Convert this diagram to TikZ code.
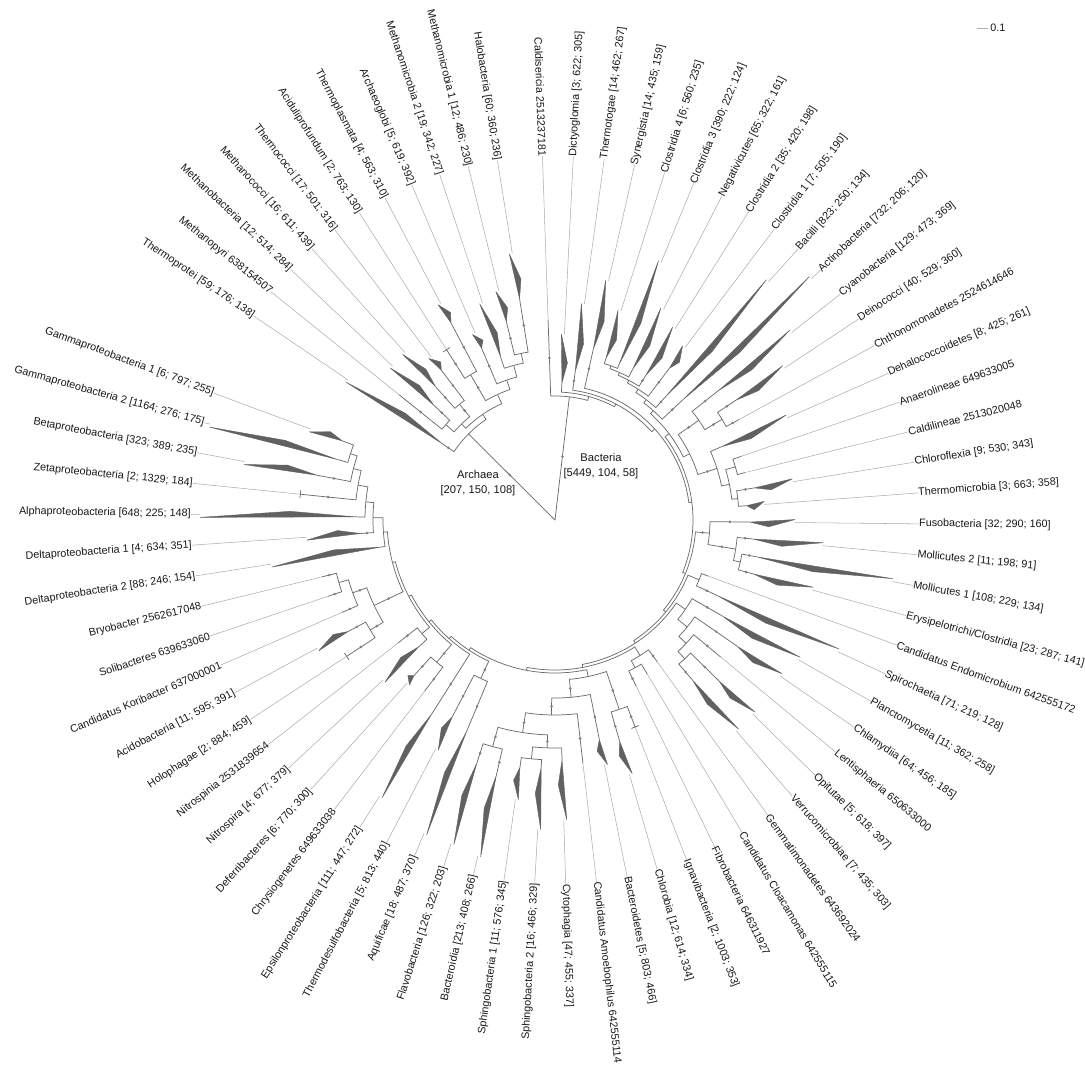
\documentclass[tikz,border=0pt]{standalone}
\usepackage{fontspec}
\setmainfont{Liberation Sans}
\pgfdeclarelayer{back}
\pgfdeclarelayer{bg}
\pgfsetlayers{back,bg,main}
\tikzset{
  br/.style={draw=black!58, line width=0.55pt},
  ld/.style={draw=black!32, line width=0.4pt},
  tri/.style={fill=black!62, draw=black!62, line width=0.3pt, line join=round},
  dotc/.style={fill=black!50},
  lab/.style={inner sep=0pt, font=\fontsize{8.1}{9.5}\selectfont, text=black!90},
}
\newcommand\TreeNode[3]{%
  \expandafter\xdef\csname TA#1\endcsname{#2}%
  \expandafter\xdef\csname TR#1\endcsname{#3}%
  \coordinate (#1) at (#2:#3);%
}
\newcommand\TreeEdge[2]{%
  \edef\EPa{\csname TA#1\endcsname}%
  \edef\EPr{\csname TR#1\endcsname}%
  \edef\ECa{\csname TA#2\endcsname}%
  \edef\ECr{\csname TR#2\endcsname}%
  \pgfmathsetmacro\EL{\ECr-\EPr}%
  \pgfmathsetmacro\EM{\EPr+0.5*\EL}%
  \begin{pgfonlayer}{bg}%
    \draw[br] (#1) arc[start angle=\EPa, end angle=\ECa, radius=\EPr*0.75pt] -- (#2);%
    \ifdim\EL pt>12pt \fill[dotc] (\ECa:\EM) circle[radius=1.1pt];\fi
  \end{pgfonlayer}%
}
\newcommand\TreeMean[4]{%
  \pgfmathsetmacro\MA{(\csname TA#3\endcsname+\csname TA#4\endcsname)/2}%
  \TreeNode{#1}{\MA}{#2}%
  \TreeEdge{#1}{#3}%
  \TreeEdge{#1}{#4}%
}
\newcommand\TreeLeaf[5]{%
  \pgfmathsetmacro\LA{#2}%
  \TreeNode{#1}{\LA}{#3}%
  \ifdim #4pt>0pt
    \pgfmathsetmacro\LM{#3+0.42*(#4-#3)}%
    \pgfmathsetmacro\LP{\LA+3/#4*57.3}%
    \pgfmathsetmacro\LQ{\LA-4.5/\LM*57.3}%
    \fill[tri] (#1) -- (\LP:#4) -- (\LQ:\LM) -- cycle;%
    \coordinate (T#1) at (\LA:#4);%
  \else
    \coordinate (T#1) at (\LA:#3);%
  \fi
  \pgfmathsetmacro\LC{cos(\LA)}%
  \ifdim\LC pt<0pt
    \node[lab,anchor=east,rotate=\LA+180] (L#1) at (\LA:364) {#5};%
    \draw[ld] (T#1) -- (L#1.east);%
  \else
    \node[lab,anchor=west,rotate=\LA] (L#1) at (\LA:364) {#5};%
    \draw[ld] (T#1) -- (L#1.west);%
  \fi
}
\newcommand\TreeTick[1]{%
  \edef\KA{\csname TA#1\endcsname}%
  \edef\KR{\csname TR#1\endcsname}%
  \pgfmathsetmacro\KP{\KA+4/\KR*57.3}%
  \pgfmathsetmacro\KQ{\KA-4/\KR*57.3}%
  \draw[br] (\KP:\KR) -- (\KQ:\KR);%
}
\newcommand\BLeaf[5]{\TreeLeaf{#1}{159.6+4.873*#2}{#3}{#4}{#5}}
\newcommand\ALeaf[5]{\TreeLeaf{#1}{99.1+4.68*#2}{#3}{#4}{#5}}

\begin{document}
\begin{tikzpicture}[x=0.75pt,y=0.75pt]
\begin{pgfonlayer}{back}
\fill[white] (-555,-545) rectangle (530,520);
\end{pgfonlayer}
\useasboundingbox (-555,-545) rectangle (530,520);
\coordinate (root) at (0,0);

% ---------------- Archaea leaves
\ALeaf{halo}{0}{224}{270}{Halobacteria [60; 360; 236]}
\ALeaf{mmA}{1}{204}{236}{Methanomicrobia 1 [12; 486; 230]}
\ALeaf{mmB}{2}{172}{229}{Methanomicrobia 2 [19; 342; 227]}
\ALeaf{archg}{3}{187}{203}{Archaeoglobi [5; 619; 392]}
\ALeaf{tplasma}{4}{223}{245}{Thermoplasmata [4; 563; 310]}
\ALeaf{acidul}{5}{202}{0}{Aciduliprofundum [2; 763; 130]}
\ALeaf{tcocci}{6}{188}{205}{Thermococci [17; 501; 316]}
\ALeaf{mcocci}{7}{179}{225}{Methanococci [16; 611; 439]}
\ALeaf{mbact}{8}{167}{224}{Methanobacteria [12; 514; 284]}
\ALeaf{mpyri}{9}{200}{0}{Methanopyri 638154507}
\ALeaf{tprot}{10}{136}{250}{Thermoprotei [59; 176; 138]}
\TreeTick{acidul}

% ---------------- Bacteria leaves
\BLeaf{gA}{0}{227}{261}{Gammaproteobacteria 1 [6; 797; 255]}
\BLeaf{gB}{1}{226}{358}{Gammaproteobacteria 2 [1164; 276; 175]}
\BLeaf{beta}{2}{242}{316}{Betaproteobacteria [323; 389; 235]}
\BLeaf{zeta}{3}{256}{0}{Zetaproteobacteria [2; 1329; 184]}
\BLeaf{alpha}{4}{200}{355}{Alphaproteobacteria [648; 225; 148]}
\BLeaf{dA}{5}{195}{249}{Deltaproteobacteria 1 [4; 634; 351]}
\BLeaf{dB}{6}{177}{287}{Deltaproteobacteria 2 [88; 246; 154]}
\BLeaf{bryo}{7}{240}{0}{Bryobacter 2562617048}
\BLeaf{soli}{8}{240}{0}{Solibacteres 639633060}
\BLeaf{kori}{9}{232}{0}{Candidatus Koribacter 637000001}
\BLeaf{acido}{10}{235}{270}{Acidobacteria [11; 595; 391]}
\BLeaf{holo}{11}{249}{0}{Holophagae [2; 884; 459]}
\BLeaf{nspinia}{12}{200}{0}{Nitrospinia 2531839654}
\BLeaf{nspira}{13}{186}{235}{Nitrospira [4; 677; 379]}
\BLeaf{deferri}{14}{210}{220}{Deferribacteres [6; 770; 300]}
\BLeaf{chryso}{15}{215}{0}{Chrysiogenetes 649633038}
\BLeaf{eps}{16}{230}{327}{Epsilonproteobacteria [111; 447; 272]}
\BLeaf{tdesulf}{17}{222}{258}{Thermodesulfobacteria [5; 813; 440]}
\BLeaf{aquif}{18}{229}{340}{Aquificae [18; 487; 370]}
\BLeaf{flavo}{19}{255}{340}{Flavobacteria [126; 322; 203]}
\BLeaf{bactdia}{20}{262}{345}{Bacteroidia [213; 408; 266]}
\BLeaf{sphA}{21}{250}{282}{Sphingobacteria 1 [11; 576; 345]}
\BLeaf{sphB}{22}{248}{310}{Sphingobacteria 2 [16; 466; 329]}
\BLeaf{cyto}{23}{240}{300}{Cytophagia [47; 455; 337]}
\BLeaf{amoeb}{24}{245}{0}{Candidatus Amoebophilus 642555114}
\BLeaf{bactdetes}{25}{224}{250}{Bacteroidetes [5; 803; 466]}
\BLeaf{chlorobia}{26}{230}{265}{Chlorobia [12; 614; 334]}
\BLeaf{ignav}{27}{222}{0}{Ignavibacteria [2; 1003; 353]}
\BLeaf{fibro}{28}{185}{0}{Fibrobacteria 646311927}
\BLeaf{cloaca}{29}{180}{0}{Candidatus Cloacamonas 642555115}
\BLeaf{gemma}{30}{175}{0}{Gemmatimonadetes 643692024}
\BLeaf{verru}{31}{211}{278}{Verrucomicrobiae [7; 435; 303]}
\BLeaf{opit}{32}{230}{277}{Opitutae [5; 618; 397]}
\BLeaf{lenti}{33}{215}{0}{Lentisphaeria 650633000}
\BLeaf{chlam}{34}{222}{274}{Chlamydiia [64; 456; 185]}
\BLeaf{plancto}{35}{193}{281}{Planctomycetia [11; 362; 258]}
\BLeaf{spiro}{36}{179}{312}{Spirochaetia [71; 219; 128]}
\BLeaf{endo}{37}{163}{0}{Candidatus Endomicrobium 642555172}
\BLeaf{erys}{38}{206}{267}{Erysipelotrichi/Clostridia [23; 287; 141]}
\BLeaf{mollA}{39}{205}{343}{Mollicutes 1 [108; 229; 134]}
\BLeaf{mollB}{40}{199}{269}{Mollicutes 2 [11; 198; 91]}
\BLeaf{fuso}{41}{195}{240}{Fusobacteria [32; 290; 160]}
\BLeaf{tmicro}{42}{192}{210}{Thermomicrobia [3; 663; 358]}
\BLeaf{cflexia}{43}{202}{241}{Chloroflexia [9; 530; 343]}
\BLeaf{caldil}{44}{196}{0}{Caldilineae 2513020048}
\BLeaf{anaero}{45}{197}{0}{Anaerolineae 649633005}
\BLeaf{dehalo}{46}{182}{254}{Dehalococcoidetes [8; 425; 261]}
\BLeaf{chthono}{47}{210}{0}{Chthonomonadetes 2524614646}
\BLeaf{deino}{48}{217}{275}{Deinococci [40; 529; 360]}
\BLeaf{cyano}{49}{208}{302}{Cyanobacteria [129; 473; 369]}
\BLeaf{actino}{50}{175}{352}{Actinobacteria [732; 206; 120]}
\BLeaf{bacilli}{51}{166}{320}{Bacilli [823; 250; 134]}
\BLeaf{closA}{52}{190}{216}{Clostridia 1 [7; 505; 190]}
\BLeaf{closB}{53}{171}{226}{Clostridia 2 [35; 420; 198]}
\BLeaf{negat}{54}{170}{237}{Negativicutes [65; 322; 161]}
\BLeaf{closC}{55}{168}{279}{Clostridia 3 [390; 222; 124]}
\BLeaf{closD}{56}{170}{219}{Clostridia 4 [6; 560; 235]}
\BLeaf{syner}{57}{175}{245}{Synergistia [14; 435; 159]}
\BLeaf{tmtogae}{58}{150}{218}{Thermotogae [14; 462; 267]}
\BLeaf{dicty}{59}{137}{186}{Dictyoglomia [3; 622; 305]}
\BLeaf{caldis}{60}{200}{0}{Caldisericia 2513237181}
\TreeTick{zeta}
\TreeTick{holo}
\TreeTick{ignav}

% ---------------- Archaea internal nodes
\TreeMean{nHA}{170}{halo}{mmA}
\TreeMean{nHB}{160}{nHA}{mmB}
\TreeMean{nHC}{148}{nHB}{archg}
\TreeMean{nTA}{168}{tplasma}{acidul}
\TreeMean{nEB}{138}{nHC}{nTA}
\TreeMean{nTM}{150}{tcocci}{mcocci}
\TreeMean{nMM}{145}{mbact}{mpyri}
\TreeMean{nEA}{134}{nTM}{nMM}
\TreeMean{nE}{128}{nEA}{nEB}
\TreeMean{nA}{122}{nE}{tprot}

% ---------------- Bacteria internal nodes
\TreeMean{nPA}{215}{gA}{gB}
\TreeMean{nPB}{208}{nPA}{beta}
\TreeMean{nPC}{200}{nPB}{zeta}
\TreeMean{nPD}{190}{nPC}{alpha}
\TreeMean{nPE}{182}{nPD}{dA}
\TreeMean{nPF}{172}{nPE}{dB}
\TreeMean{nACA}{225}{bryo}{soli}
\TreeMean{nACB}{215}{nACA}{kori}
\TreeMean{nACC}{215}{acido}{holo}
\TreeMean{nAC}{200}{nACB}{nACC}
\TreeMean{nNN}{175}{nspinia}{nspira}
\TreeMean{nDC}{185}{deferri}{chryso}
\TreeMean{nAT}{175}{tdesulf}{aquif}
\TreeMean{nFB}{235}{flavo}{bactdia}
\TreeMean{nSS}{240}{sphA}{sphB}
\TreeMean{nSSC}{228}{nSS}{cyto}
\TreeMean{nBGc}{215}{nFB}{nSSC}
\TreeMean{nBGb}{195}{nBGc}{amoeb}
\TreeMean{nBG}{178}{nBGb}{bactdetes}
\TreeMean{nCI}{200}{chlorobia}{ignav}
\TreeMean{nBGC}{160}{nBG}{nCI}
\TreeMean{nFC}{168}{fibro}{cloaca}
\TreeMean{nFCG}{160}{nFC}{gemma}
\TreeMean{nPVA}{190}{opit}{verru}
\TreeMean{nPVB}{180}{nPVA}{lenti}
\TreeMean{nPVC}{170}{nPVB}{chlam}
\TreeMean{nPV}{158}{nPVC}{plancto}
\TreeMean{nSE}{156}{endo}{spiro}
\TreeMean{nMB}{190}{mollA}{erys}
\TreeMean{nMA}{183}{nMB}{mollB}
\TreeMean{nFM}{155}{nMA}{fuso}
\TreeMean{nCFA}{188}{caldil}{anaero}
\TreeMean{nCFB}{184}{cflexia}{tmicro}
\TreeMean{nCFC}{178}{nCFA}{nCFB}
\TreeMean{nCFX}{170}{nCFC}{dehalo}
\TreeMean{nDCB}{195}{deino}{chthono}
\TreeMean{nCY}{175}{nDCB}{cyano}
\TreeMean{nTT}{150}{nCY}{nCFX}
\TreeMean{nFA}{164}{closD}{closC}
\TreeMean{nFB2}{161}{nFA}{negat}
\TreeMean{nFC2}{158}{nFB2}{closB}
\TreeMean{nFD}{155}{nFC2}{closA}
\TreeMean{nF}{151}{nFD}{bacilli}
\TreeMean{nFAc}{147}{nF}{actino}
\TreeMean{nTer}{143}{nFAc}{nTT}
\TreeMean{nXa}{168}{nPF}{nAC}
\TreeMean{nXb}{165}{nXa}{nNN}
\TreeMean{nXc}{162}{nXb}{nDC}
\TreeMean{nXd}{159}{nXc}{eps}
\TreeMean{nXe}{156}{nXd}{nAT}
\TreeMean{nXf}{153}{nXe}{nBGC}
\TreeMean{nXg}{150}{nXf}{nFCG}
\TreeMean{nXh}{147}{nXg}{nPV}
\TreeMean{nXi}{144}{nXh}{nSE}
\TreeMean{nXj}{141}{nXi}{nFM}
\TreeMean{nXk}{138}{nXj}{nTer}
\TreeMean{nXl}{135}{nXk}{syner}
\TreeMean{nXm}{131}{nXl}{tmtogae}
\TreeMean{nXn}{128}{nXm}{dicty}
\TreeMean{nB}{124}{nXn}{caldis}

% ---------------- root
\edef\RAa{\csname TAnA\endcsname}
\edef\RAb{\csname TAnB\endcsname}
\begin{pgfonlayer}{bg}
\draw[br] (root) -- (nA);
\draw[br] (root) -- (nB);
\fill[dotc] (\RAa:64) circle[radius=1.1pt];
\fill[dotc] (\RAb:64) circle[radius=1.1pt];
\end{pgfonlayer}

\node[lab, align=center, font=\fontsize{8.4}{11}\selectfont] (archlab) at (-77,37) {Archaea\\{[207, 150, 108]}};
\node[lab, align=center, font=\fontsize{8.4}{11}\selectfont] (baclab) at (46,54) {Bacteria\\{[5449, 104, 58]}};

% scale bar
\coordinate (sbA) at (422,492);
\coordinate (sbB) at (433,492);
\draw[ld] (sbA) -- (sbB);
\node[lab, anchor=west] (sbl) at (435,492) {0.1};
\end{tikzpicture}
\end{document}
